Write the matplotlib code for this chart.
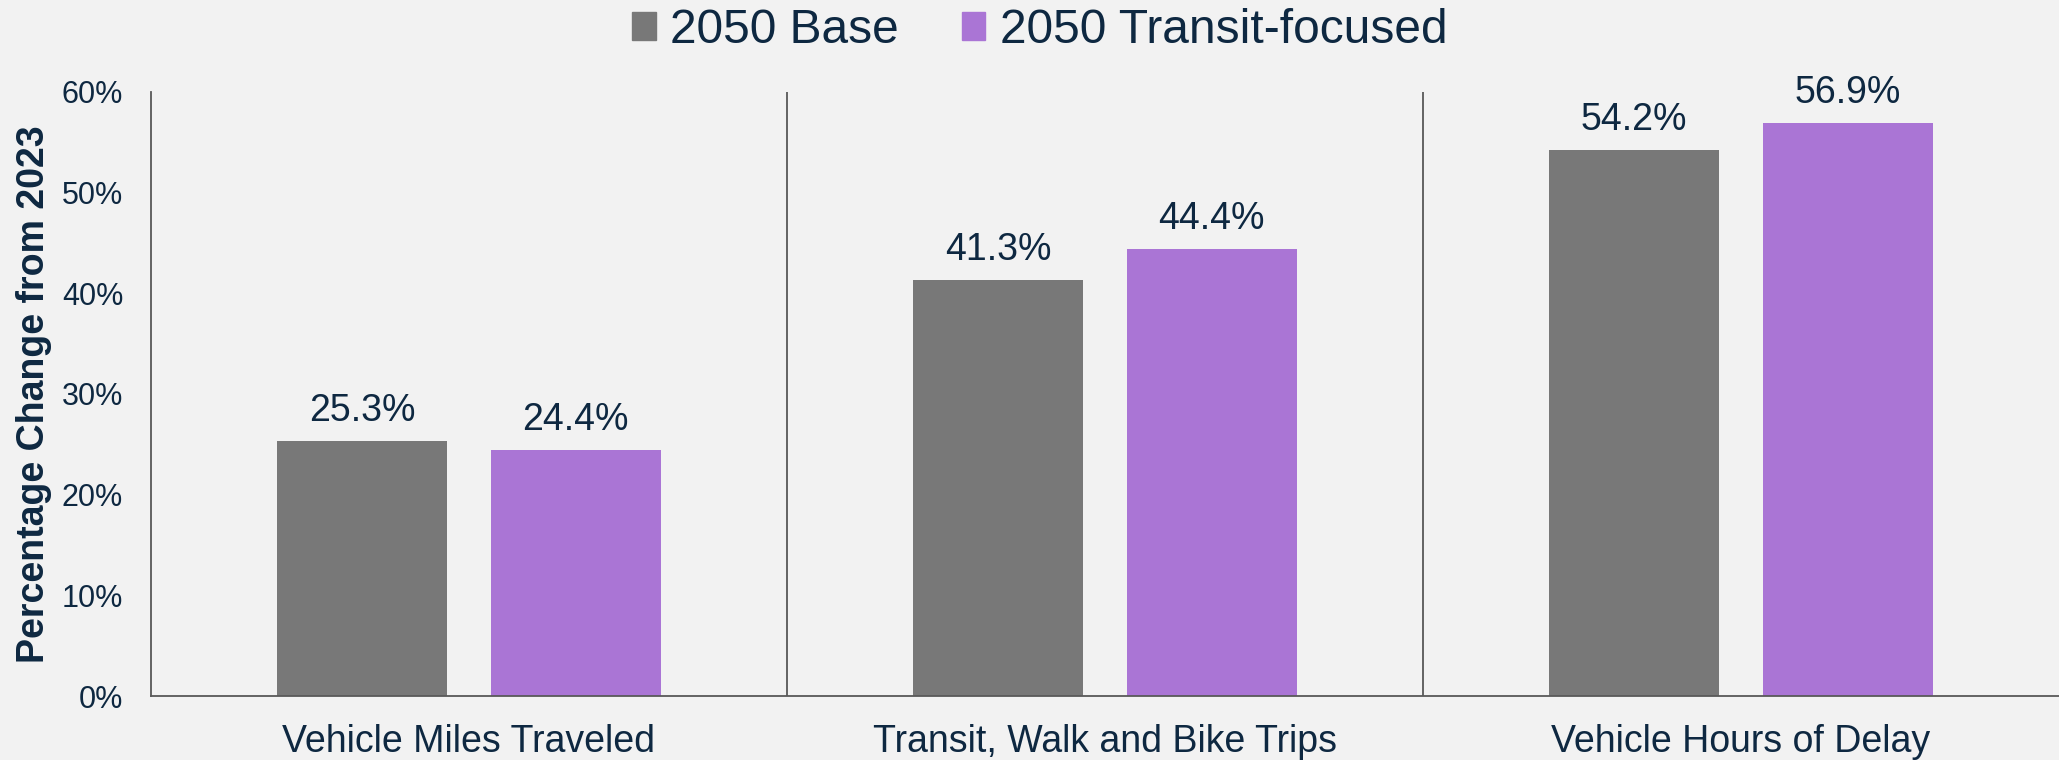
import numpy as np
import matplotlib
matplotlib.use("Agg")
import matplotlib.pyplot as plt
from matplotlib.patches import Patch

categories = ["Vehicle Miles Traveled", "Transit, Walk and Bike Trips", "Vehicle Hours of Delay"]
series_names = ["2050 Base", "2050 Transit-focused"]
base_values = [25.3, 41.3, 54.2]
transit_values = [24.4, 44.4, 56.9]
y_ticks = [0, 10, 20, 30, 40, 50, 60]

BG = "#F2F2F2"
NAVY = "#0E2841"
GRAY = "#787878"
PURPLE = "#AA75D5"

plt.rcParams["font.family"] = ["Liberation Sans", "DejaVu Sans"]

fig = plt.figure(figsize=(20.59, 7.6), dpi=100, facecolor=BG)
ax = fig.add_axes([0.0733, 0.0842, 0.9267, 0.7948], facecolor=BG)

x = np.arange(len(categories))
width = 0.267
offset = 0.168
bars1 = ax.bar(x - offset, base_values, width, color=GRAY)
bars2 = ax.bar(x + offset, transit_values, width, color=PURPLE)

for bars in (bars1, bars2):
    for b in bars:
        ax.annotate(f"{b.get_height():.1f}%", (b.get_x() + b.get_width() / 2, b.get_height()),
                    xytext=(0, 9), textcoords="offset points", ha="center", va="bottom",
                    fontsize=27, color=NAVY)

ax.set_xlim(-0.5, 2.5)
ax.set_ylim(0, 60)
ax.set_yticks(y_ticks)
ax.set_yticklabels([f"{t}%" for t in y_ticks], fontsize=22, color=NAVY)
ax.set_xticks(x)
ax.set_xticklabels(categories, fontsize=27, color=NAVY)
ax.tick_params(axis="both", length=0)
ax.tick_params(axis="x", pad=20)
ax.tick_params(axis="y", pad=20)

# group dividers
for d in [0.5, 1.5]:
    ax.axvline(d, color="#595959", lw=1.3)

for s in ["top", "right"]:
    ax.spines[s].set_visible(False)
for s in ["left", "bottom"]:
    ax.spines[s].set_color("#595959")
    ax.spines[s].set_linewidth(1.3)

ax.set_ylabel("Percentage Change from 2023", fontsize=27, fontweight="bold", color=NAVY)
ax.yaxis.set_label_coords(-0.052, 0.5)

handles = [Patch(color=GRAY), Patch(color=PURPLE)]
fig.legend(handles, series_names, loc="center", bbox_to_anchor=(0.505, 0.96), ncol=2,
           frameon=False, fontsize=34.5, labelcolor=NAVY, handlelength=0.5, handleheight=0.55,
           handletextpad=0.3, columnspacing=1.3)

fig.savefig("out.png", dpi=100, facecolor=BG)
